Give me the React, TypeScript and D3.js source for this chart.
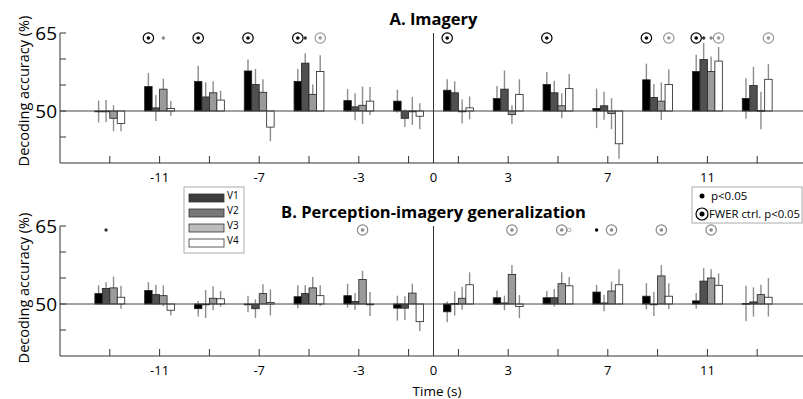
import * as d3 from "d3";

const times = [-13, -11, -9, -7, -5, -3, -1, 1, 3, 5, 7, 9, 11, 13];
const areas = ["V1", "V2", "V3", "V4"];
const tickLabels = [-11, -7, -3, 0, 3, 7, 11];

// A. Imagery
const imgV1 = [49.9, 54.7, 55.7, 57.7, 55.7, 52.0, 51.9, 54.0, 52.4, 55.1, 50.5, 56.0, 57.6, 52.4];
const imgV2 = [50.0, 50.6, 52.7, 55.1, 59.2, 50.8, 48.6, 53.5, 54.2, 53.5, 51.0, 52.6, 59.9, 54.9];
const imgV3 = [48.6, 54.2, 53.5, 53.6, 53.2, 51.1, 50.0, 49.9, 49.3, 51.0, 49.5, 51.9, 57.6, 50.1];
const imgV4 = [47.6, 50.5, 52.1, 46.9, 57.6, 51.9, 49.0, 50.6, 53.2, 54.3, 43.7, 55.1, 59.6, 56.1];
const imgV1Err = [2.1, 2.6, 3.0, 2.2, 2.4, 2.2, 2.2, 2.1, 2.4, 2.4, 3.8, 3.1, 3.2, 3.9];
const imgV2Err = [2.1, 2.5, 2.8, 3.0, 1.9, 2.6, 1.7, 2.2, 3.6, 2.3, 2.7, 2.6, 3.2, 3.6];
const imgV3Err = [2.5, 2.0, 2.2, 2.5, 1.9, 3.6, 2.7, 2.3, 1.8, 2.4, 3.0, 3.6, 2.9, 3.6];
const imgV4Err = [1.5, 1.4, 1.8, 2.7, 3.1, 2.7, 2.5, 2.2, 2.9, 2.8, 2.9, 2.9, 2.7, 2.9];
const imgFwer = [["V1", -11], ["V1", -9], ["V1", -7], ["V1", -5], ["V4", -5], ["V1", 1], ["V1", 5], ["V1", 9], ["V4", 9], ["V1", 11], ["V4", 11], ["V4", 13]];
const imgP = [["V3", -11], ["V2", -5], ["V2", 11], ["V3", 11]];

// B. Perception-imagery generalization
const genV1 = [52.0, 52.6, 49.1, 50.0, 51.4, 51.6, 49.2, 48.5, 51.2, 51.2, 52.3, 51.5, 50.6, 50.1];
const genV2 = [53.0, 51.8, 50.0, 49.1, 52.0, 50.5, 49.2, 50.1, 50.2, 51.2, 50.2, 50.0, 54.4, 50.4];
const genV3 = [53.1, 51.6, 51.1, 52.0, 53.1, 54.7, 52.1, 51.1, 55.7, 53.9, 52.5, 55.4, 55.0, 51.8];
const genV4 = [51.3, 48.8, 51.0, 50.3, 51.6, 50.0, 46.6, 53.7, 49.5, 53.5, 53.7, 51.5, 53.6, 51.3];
const genV1Err = [1.6, 1.6, 1.5, 1.6, 2.2, 2.3, 2.4, 2.0, 1.4, 1.3, 1.4, 2.5, 1.5, 3.4];
const genV2Err = [1.2, 1.9, 2.7, 1.8, 1.6, 1.6, 2.3, 2.3, 1.4, 1.7, 1.6, 2.3, 2.5, 2.8];
const genV3Err = [2.2, 2.0, 2.3, 1.8, 2.1, 1.7, 1.8, 2.2, 1.8, 2.2, 1.8, 2.1, 1.7, 1.9];
const genV4Err = [2.2, 1.0, 1.5, 2.5, 2.0, 2.3, 1.8, 2.4, 2.2, 1.7, 3.0, 2.5, 2.3, 3.7];
const genFwer = [["V3", -3], ["V3", 3], ["V3", 5], ["V3", 7], ["V3", 9], ["V3", 11]];
const genP = [["V2", -13], ["V4", 5], ["V1", 7]];

const barFill: Record<string, string> = { V1: "#000", V2: "#505050", V3: "#9a9a9a", V4: "#fff" };
const legendFill: Record<string, string> = { V1: "#3c3c3c", V2: "#787878", V3: "#bcbcbc", V4: "#fff" };
const markColor: Record<string, string> = { V1: "#000", V2: "#333", V3: "#888", V4: "#999" };

const W = 803;
const H = 399;
const font = "'Open Sans', 'Noto Sans', sans-serif";

const x = d3.scaleLinear().domain([-15, 15]).range([60, 807]);
const band = d3.scaleBand().domain(areas).range([-0.6, 0.6]);
const xb = (t: number, a: string) => x(t + (band(a) as number) + band.bandwidth() / 2);

type PanelProps = {
  y: d3.ScaleLinear<number, number>;
  title: string;
  titleY: number;
  vals: number[][];
  errs: number[][];
  fwer: any[];
  p: any[];
  markY: number;
};

const Panel = ({ y, title, titleY, vals, errs, fwer, p, markY }: PanelProps) => {
  const base = y(50);
  const bottom = y(40);
  const top = y(65);
  const bw = x(band.bandwidth()) - x(0);
  return (
    <g>
      <text x={x(0)} y={titleY} textAnchor="middle" fontSize={16.5} fontWeight="bold" fontFamily={font}>
        {title}
      </text>
      {/* axes */}
      <line x1={60} x2={W} y1={bottom} y2={bottom} stroke="#333" />
      <line x1={60} x2={60} y1={top} y2={bottom} stroke="#333" />
      {[45, 50, 55, 60, 65].map((v) => (
        <line key={v} x1={60} x2={66} y1={y(v)} y2={y(v)} stroke="#333" />
      ))}
      {[50, 65].map((v) => (
        <text key={v} x={57} y={y(v)} dy="0.35em" textAnchor="end" fontSize={19} fontFamily={font}>
          {v}
        </text>
      ))}
      {times.map((t) => (
        <line key={t} x1={x(t)} x2={x(t)} y1={bottom} y2={bottom - 7} stroke="#333" />
      ))}
      {tickLabels.map((t) => (
        <text key={t} x={x(t)} y={bottom + 14} dy="0.35em" textAnchor="middle" fontSize={13} fontFamily={font}>
          {t}
        </text>
      ))}
      <line x1={x(0)} x2={x(0)} y1={top} y2={bottom} stroke="#333" />
      {/* error bars */}
      {areas.map((a, k) =>
        times.map((t, i) => (
          <line
            key={a + t}
            x1={xb(t, a)}
            x2={xb(t, a)}
            y1={y(vals[k][i] - errs[k][i])}
            y2={y(vals[k][i] + errs[k][i])}
            stroke="#8c8c8c"
            strokeWidth={1.4}
          />
        ))
      )}
      {/* bars */}
      {areas.map((a, k) =>
        times.map((t, i) => {
          const yv = y(vals[k][i]);
          return (
            <rect
              key={a + t}
              x={xb(t, a) - bw / 2}
              y={Math.min(yv, base)}
              width={bw}
              height={Math.max(Math.abs(base - yv), 0.8)}
              fill={barFill[a]}
              stroke="#222"
              strokeWidth={0.8}
            />
          );
        })
      )}
      <line x1={60} x2={W} y1={base} y2={base} stroke="#444" />
      {/* significance */}
      {fwer.map(([a, t]: any) => (
        <g key={"f" + a + t}>
          <circle cx={xb(t, a)} cy={markY} r={5.2} fill="#fff" stroke={markColor[a]} strokeWidth={1.2} />
          <circle cx={xb(t, a)} cy={markY} r={1.8} fill={markColor[a]} />
        </g>
      ))}
      {p.map(([a, t]: any) => (
        <circle
          key={"p" + a + t}
          cx={xb(t, a)}
          cy={markY}
          r={a === "V4" ? 1.8 : 1.7}
          fill={a === "V4" ? "#fff" : markColor[a]}
          stroke={a === "V4" ? "#999" : "none"}
          strokeWidth={0.8}
        />
      ))}
    </g>
  );
};

export default function App() {
  const yA = d3.scaleLinear().domain([40, 65]).range([163, 33]);
  const yB = d3.scaleLinear().domain([40, 65]).range([356, 226]);
  return (
    <svg width={W} height={H} style={{ position: "absolute", left: 0, top: 0, background: "#fff" }}>
      <rect width={W} height={H} fill="#fff" />
      <Panel
        y={yA}
        title="A. Imagery"
        titleY={25}
        vals={[imgV1, imgV2, imgV3, imgV4]}
        errs={[imgV1Err, imgV2Err, imgV3Err, imgV4Err]}
        fwer={imgFwer}
        p={imgP}
        markY={38}
      />
      <Panel
        y={yB}
        title="B. Perception-imagery generalization"
        titleY={218}
        vals={[genV1, genV2, genV3, genV4]}
        errs={[genV1Err, genV2Err, genV3Err, genV4Err]}
        fwer={genFwer}
        p={genP}
        markY={230}
      />
      <text transform="translate(29,91) rotate(-90)" textAnchor="middle" fontSize={14.5} fontFamily={font}>
        Decoding accuracy (%)
      </text>
      <text transform="translate(29,288) rotate(-90)" textAnchor="middle" fontSize={14.5} fontFamily={font}>
        Decoding accuracy (%)
      </text>
      <text x={437} y={396} textAnchor="middle" fontSize={13.5} fontFamily={font}>
        Time (s)
      </text>
      {/* area legend */}
      <rect x={184} y={187} width={60} height={66} fill="#fff" stroke="#aaa" />
      {areas.map((a, i) => (
        <g key={a}>
          <rect x={189} y={194 + i * 15} width={35} height={8} fill={legendFill[a]} stroke="#333" strokeWidth={0.8} />
          <text x={227} y={198 + i * 15} dy="0.1em" fontSize={10} fontFamily={font}>
            {a}
          </text>
        </g>
      ))}
      {/* significance legend */}
      <rect x={692} y={187} width={110} height={36} fill="#fff" stroke="#aaa" />
      <circle cx={702} cy={196} r={2.5} fill="#000" />
      <text x={711} y={196} dy="0.35em" fontSize={11.5} fontFamily={font}>
        p&lt;0.05
      </text>
      <circle cx={702} cy={214} r={6} fill="#fff" stroke="#000" strokeWidth={1.2} />
      <circle cx={702} cy={214} r={2.5} fill="#000" />
      <text x={709} y={214} dy="0.35em" fontSize={11.5} fontFamily={font} textLength={91} lengthAdjust="spacingAndGlyphs">
        FWER ctrl. p&lt;0.05
      </text>
    </svg>
  );
}
